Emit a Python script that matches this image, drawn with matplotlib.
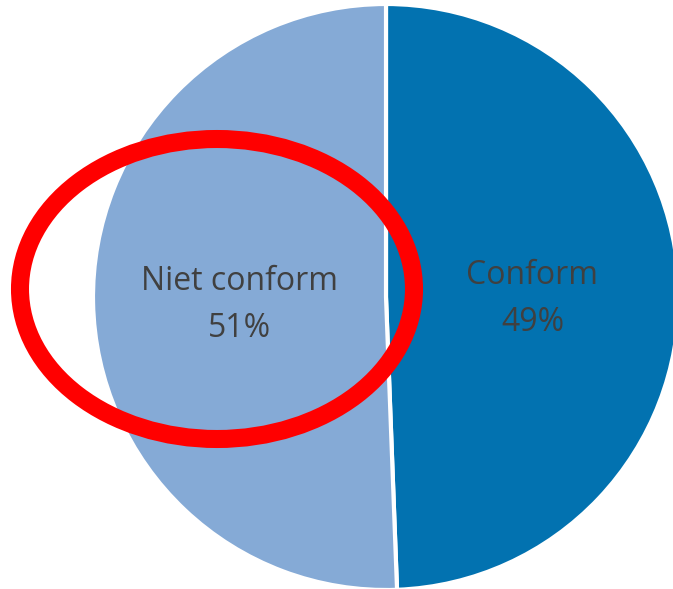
import matplotlib.pyplot as plt
from matplotlib.patches import Ellipse

# --- DATA ---
categories = ["Conform", "Niet conform"]
values = [49.4, 50.6]
colors = ["#0272B0", "#85AAD6"]

labels = [f"{c}\n{v:.0f}%" for c, v in zip(categories, values)]

# --- PLOT ---
W, H = 673, 589
fig = plt.figure(figsize=(W / 100, H / 100), dpi=100)
ax = fig.add_axes([0, 0, 1, 1])

wedges, texts = ax.pie(values, labels=labels, colors=colors, startangle=90, counterclock=False,
                       center=(386, 292), radius=293, labeldistance=0.5,
                       wedgeprops=dict(edgecolor="white", linewidth=3),
                       textprops=dict(ha="center", va="center", color="#404040",
                                      fontsize=23, family="Open Sans", linespacing=1.55))
# labels iets lager zetten
for t in texts:
    x, y = t.get_position()
    t.set_position((x, y - 5))

# rode ellips als markering
ax.add_patch(Ellipse((217, 300), 394, 300, fill=False, edgecolor="#FF0000", linewidth=13))

# pie() zet eigen limieten, daarna pas overschrijven
ax.set_xlim(0, W)
ax.set_ylim(0, H)
ax.set_aspect("equal")
ax.axis("off")

fig.savefig("out.png", dpi=100)
